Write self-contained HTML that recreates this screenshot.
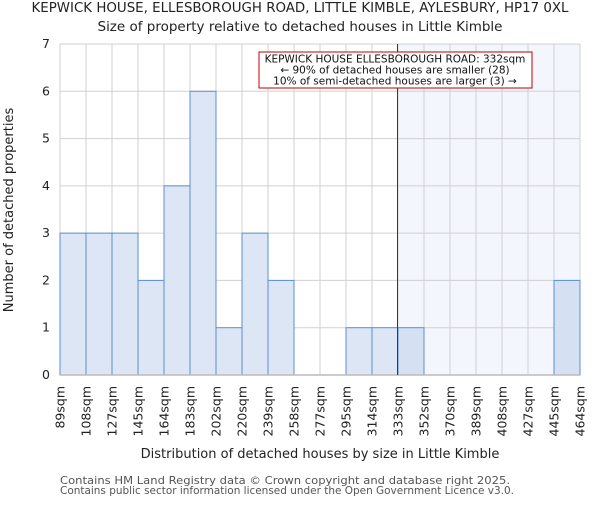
<!DOCTYPE html>
<html><head><meta charset="utf-8"><style>
body{margin:0;background:#fff;font-family:"Liberation Sans","DejaVu Sans",sans-serif}
text{font-family:"DejaVu Sans","Liberation Sans",sans-serif}
</style></head><body>
<svg id="chart" width="600" height="500" viewBox="0 0 600 500" xmlns="http://www.w3.org/2000/svg">
<text x="300" y="12" text-anchor="middle" font-size="13.5" textLength="537" lengthAdjust="spacingAndGlyphs" fill="#222">KEPWICK HOUSE, ELLESBOROUGH ROAD, LITTLE KIMBLE, AYLESBURY, HP17 0XL</text>
<text x="300" y="31" text-anchor="middle" font-size="13.5" textLength="405" lengthAdjust="spacingAndGlyphs" fill="#222">Size of property relative to detached houses in Little Kimble</text>
<g id="plot"></g>
<text x="320" y="458" text-anchor="middle" font-size="13" fill="#222">Distribution of detached houses by size in Little Kimble</text>
<text transform="translate(13,210) rotate(-90)" text-anchor="middle" font-size="13" fill="#222">Number of detached properties</text>
<text x="60" y="484" font-size="11" textLength="450" lengthAdjust="spacingAndGlyphs" fill="#555">Contains HM Land Registry data © Crown copyright and database right 2025.</text>
<text x="60" y="494" font-size="11" textLength="454" lengthAdjust="spacingAndGlyphs" fill="#555">Contains public sector information licensed under the Open Government Licence v3.0.</text>
</svg>
<script>
const binLabels=["89sqm","108sqm","127sqm","145sqm","164sqm","183sqm","202sqm","220sqm","239sqm","258sqm","277sqm","295sqm","314sqm","333sqm","352sqm","370sqm","389sqm","408sqm","427sqm","445sqm","464sqm"];
const counts=[3,3,3,2,4,6,1,3,2,0,0,1,1,1,0,0,0,0,0,2];
const yTicks=[0,1,2,3,4,5,6,7];
const markerBin=13;
const NS="http://www.w3.org/2000/svg";
const g=document.getElementById('plot');
const L=60,R=580,T=44,B=375,yMax=7;
const bw=(R-L)/counts.length;
const x=i=>L+i*bw;
const y=v=>B-(v/yMax)*(B-T);
function el(t,a){const e=document.createElementNS(NS,t);for(const k in a)e.setAttribute(k,a[k]);g.appendChild(e);return e;}
const hl=el('rect',{x:x(markerBin),y:T,width:R-x(markerBin),height:B-T,fill:'#f3f6fd'});


for(let i=0;i<=counts.length;i++){const l=el('line',{x1:x(i),x2:x(i),y1:T,y2:B,stroke:'#d0d0d0','stroke-width':1});

}
yTicks.forEach(v=>{const l=el('line',{x1:L,x2:R,y1:y(v),y2:y(v),stroke:'#d0d0d0','stroke-width':1});


const t=el('text',{x:L-10,y:y(v)+4,'text-anchor':'end','font-size':12.5,fill:'#222'});t.textContent=v;

});
counts.forEach((c,i)=>{if(c<=0)return;const r=el('rect',{x:x(i),y:y(c),width:bw,height:B-y(c),fill:i>=markerBin?'#d5e1f3':'#dce6f4',stroke:'#5b8fd6','stroke-width':1});

});
binLabels.forEach((s,i)=>{const t=el('text',{transform:`translate(${x(i)+4.5},386) rotate(-90)`,'text-anchor':'end','font-size':12.5,fill:'#222'});t.textContent=s;

});
const ax=el('line',{x1:L,x2:R,y1:B,y2:B,stroke:'#bbb','stroke-width':1.5});


const ml=el('line',{x1:x(markerBin)-0.5,x2:x(markerBin)-0.5,y1:T,y2:B,stroke:'#c00000','stroke-width':1});


const box=el('rect',{x:259,y:52,width:273,height:36,fill:'#fff',stroke:'#c00000','stroke-width':1});


["KEPWICK HOUSE ELLESBOROUGH ROAD: 332sqm","← 90% of detached houses are smaller (28)","10% of semi-detached houses are larger (3) →"].forEach((s,i)=>{const t=el('text',{x:395,y:62.5+i*11,'text-anchor':'middle','font-size':10.5,fill:'#111'});t.textContent=s;

});
</script>
</body></html>
